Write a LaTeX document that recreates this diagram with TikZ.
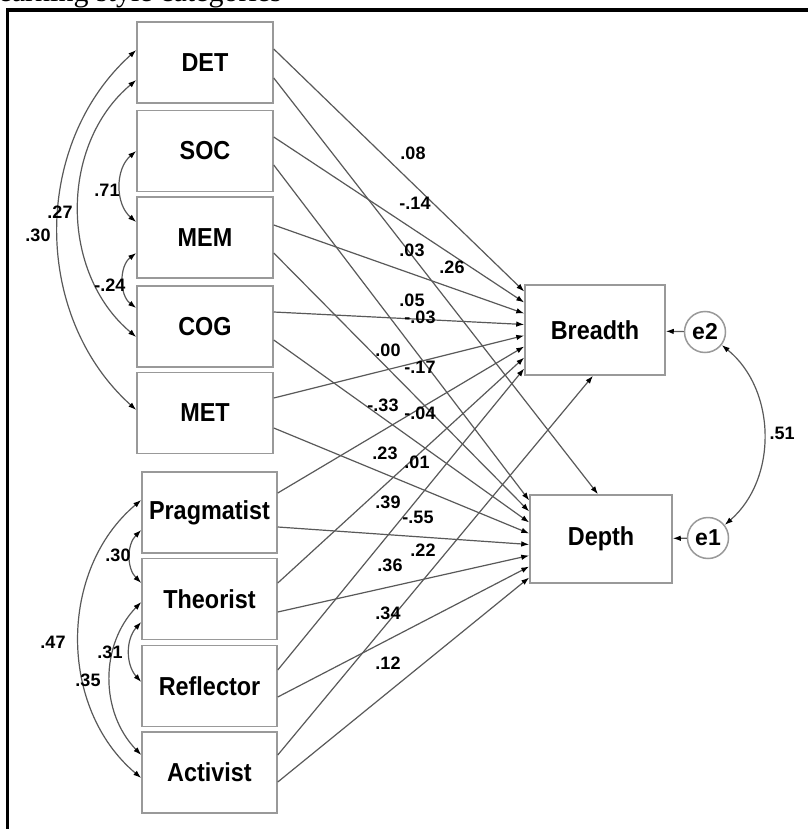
\documentclass[tikz,border=0pt]{standalone}
\usepackage{fontspec}
\setmainfont{Liberation Sans}
\newfontfamily\titlefont{Liberation Serif}
\usepackage{graphicx}
\usetikzlibrary{arrows.meta}

\newcommand{\nar}[1]{\scalebox{0.9}[1]{#1}}

\tikzset{
  var/.style={draw=gray!80, line width=1.5pt, fill=white, minimum width=136pt, minimum height=81pt, inner sep=0pt, font=\fontsize{26}{30}\selectfont\bfseries},
  err/.style={circle, draw=gray!80, line width=1.5pt, fill=white, minimum size=41pt, inner sep=0pt, font=\fontsize{23}{26}\selectfont\bfseries},
  reg/.style={draw=black!65, line width=1.2pt, -{Latex[length=8pt,width=5.5pt,color=black]}},
  cov/.style={draw=black!65, line width=1.2pt, {Latex[length=8pt,width=5.5pt,color=black]}-{Latex[length=8pt,width=5.5pt,color=black]}},
  coef/.style={font=\fontsize{18}{20}\selectfont\bfseries, inner sep=0pt}
}

\begin{document}
\begin{tikzpicture}[x=1pt,y=-1pt]
    \useasboundingbox (0,0) rectangle (808,829);
    \fill[white] (0,0) rectangle (808,829);

    % Cut-off caption and frame
    \begin{scope}
        \clip (0,0) rectangle (808,9);
        \node[anchor=base east, inner sep=0pt, font=\titlefont\fontsize{30}{36}\selectfont] (ttl) at (282,2) {Learning style categories};
    \end{scope}
    \draw[line width=3.5pt] (6,10) -- (808,10);
    \draw[line width=3.5pt] (7.5,8.25) -- (7.5,829);

    % Strategy boxes
    \node[var] (det) at (205,62.5) {\nar{DET}};
    \node[var] (soc) at (205,151) {\nar{SOC}};
    \node[var] (mem) at (205,237.5) {\nar{MEM}};
    \node[var] (cog) at (205,326.5) {\nar{COG}};
    \node[var] (met) at (205,413) {\nar{MET}};

    % Learning style boxes
    \node[var, minimum width=135pt] (prag) at (209.5,512.5) {\nar{Pragmatist}};
    \node[var, minimum width=135pt] (theo) at (209.5,599) {\nar{Theorist}};
    \node[var, minimum width=135pt] (refl) at (209.5,686) {\nar{Reflector}};
    \node[var, minimum width=135pt] (act) at (209.5,772.5) {\nar{Activist}};

    % Outcome boxes and error terms
    \node[var, minimum width=140pt, minimum height=90pt] (br) at (595,330) {\nar{Breadth}};
    \node[var, minimum width=142pt, minimum height=88pt] (dp) at (601,539) {\nar{Depth}};
    \node[err] (e2) at (705,332) {e2};
    \node[err] (e1) at (708,538) {e1};

    % Paths to Breadth and Depth
    \draw[reg] ([yshift=13.5pt]det.east) -- ([yshift=38.5pt]br.west);
    \draw[reg] ([yshift=-15.5pt]det.east) -- ([xshift=-3pt]dp.north);
    \draw[reg] ([yshift=14pt]soc.east) -- ([yshift=27.5pt]br.west);
    \draw[reg] ([yshift=-14pt]soc.east) -- ([yshift=38.5pt]dp.west);
    \draw[reg] ([yshift=12.5pt]mem.east) -- ([yshift=16.5pt]br.west);
    \draw[reg] ([yshift=-15.5pt]mem.east) -- ([yshift=27.5pt]dp.west);
    \draw[reg] ([yshift=14.5pt]cog.east) -- ([yshift=5.5pt]br.west);
    \draw[reg] ([yshift=-13.5pt]cog.east) -- ([yshift=16.5pt]dp.west);
    \draw[reg] ([yshift=15pt]met.east) -- ([yshift=-5.5pt]br.west);
    \draw[reg] ([yshift=-15pt]met.east) -- ([yshift=5.5pt]dp.west);
    \draw[reg] ([yshift=19.5pt]prag.east) -- ([yshift=-16.5pt]br.west);
    \draw[reg] ([yshift=-14.5pt]prag.east) -- ([yshift=-5.5pt]dp.west);
    \draw[reg] ([yshift=16pt]theo.east) -- ([yshift=-27.5pt]br.west);
    \draw[reg] ([yshift=-13pt]theo.east) -- ([yshift=-16.5pt]dp.west);
    \draw[reg] ([yshift=16pt]refl.east) -- ([yshift=-38.5pt]br.west);
    \draw[reg] ([yshift=-11pt]refl.east) -- ([yshift=-27.5pt]dp.west);
    \draw[reg] ([yshift=17.5pt]act.east) -- ([xshift=-2pt]br.south);
    \draw[reg] ([yshift=-9.5pt]act.east) -- ([yshift=-38.5pt]dp.west);

    % Error terms
    \draw[reg] (e2) -- (br);
    \draw[reg] (e1) -- (dp);
    \draw[cov] (e2.-38) to[bend left=50] (e1.38);

    % Correlations among strategies
    \draw[cov] ([yshift=0pt]soc.west) to[bend right=50] ([yshift=15.5pt]mem.west);
    \draw[cov] ([yshift=-15.5pt]mem.west) to[bend right=53] ([yshift=18.5pt]cog.west);
    \draw[cov] ([yshift=-17.5pt]det.west) to[bend right=50] ([yshift=-10.5pt]cog.west);
    \draw[cov] ([yshift=12.5pt]det.west) to[bend right=48] ([yshift=3pt]met.west);

    % Correlations among learning styles
    \draw[cov] ([yshift=-17.5pt]prag.west) to[bend right=45] ([yshift=16pt]theo.west);
    \draw[cov] ([yshift=-23pt]theo.west) to[bend right=42] ([yshift=4pt]refl.west);
    \draw[cov] ([yshift=-3pt]theo.west) to[bend right=44] ([yshift=17.5pt]act.west);
    \draw[cov] ([yshift=12.5pt]prag.west) to[bend right=50] ([yshift=-5.5pt]act.west);

    % Coefficients
    \node[coef] (k1) at (413,153) {.08};
    \node[coef] (k2) at (415,203) {-.14};
    \node[coef] (k3) at (412,250) {.03};
    \node[coef] (k4) at (452,267) {.26};
    \node[coef] (k5) at (412,300) {.05};
    \node[coef] (k6) at (420,317) {-.03};
    \node[coef] (k7) at (388,350) {.00};
    \node[coef] (k8) at (420,367) {-.17};
    \node[coef] (k9) at (383,405) {-.33};
    \node[coef] (k10) at (420,413) {-.04};
    \node[coef] (k11) at (385,453) {.23};
    \node[coef] (k12) at (417,462) {.01};
    \node[coef] (k13) at (388,502) {.39};
    \node[coef] (k14) at (418,517) {-.55};
    \node[coef] (k15) at (423,550) {.22};
    \node[coef] (k16) at (390,565) {.36};
    \node[coef] (k17) at (388,613) {.34};
    \node[coef] (k18) at (388,663) {.12};

    \node[coef] (r1) at (107,190) {.71};
    \node[coef] (r2) at (110,285) {-.24};
    \node[coef] (r3) at (60,212) {.27};
    \node[coef] (r4) at (38,235) {.30};
    \node[coef] (r5) at (118,555) {.30};
    \node[coef] (r6) at (110,652) {.31};
    \node[coef] (r7) at (88,680) {.35};
    \node[coef] (r8) at (53,642) {.47};
    \node[coef] (r9) at (782,433) {.51};
\end{tikzpicture}
\end{document}
